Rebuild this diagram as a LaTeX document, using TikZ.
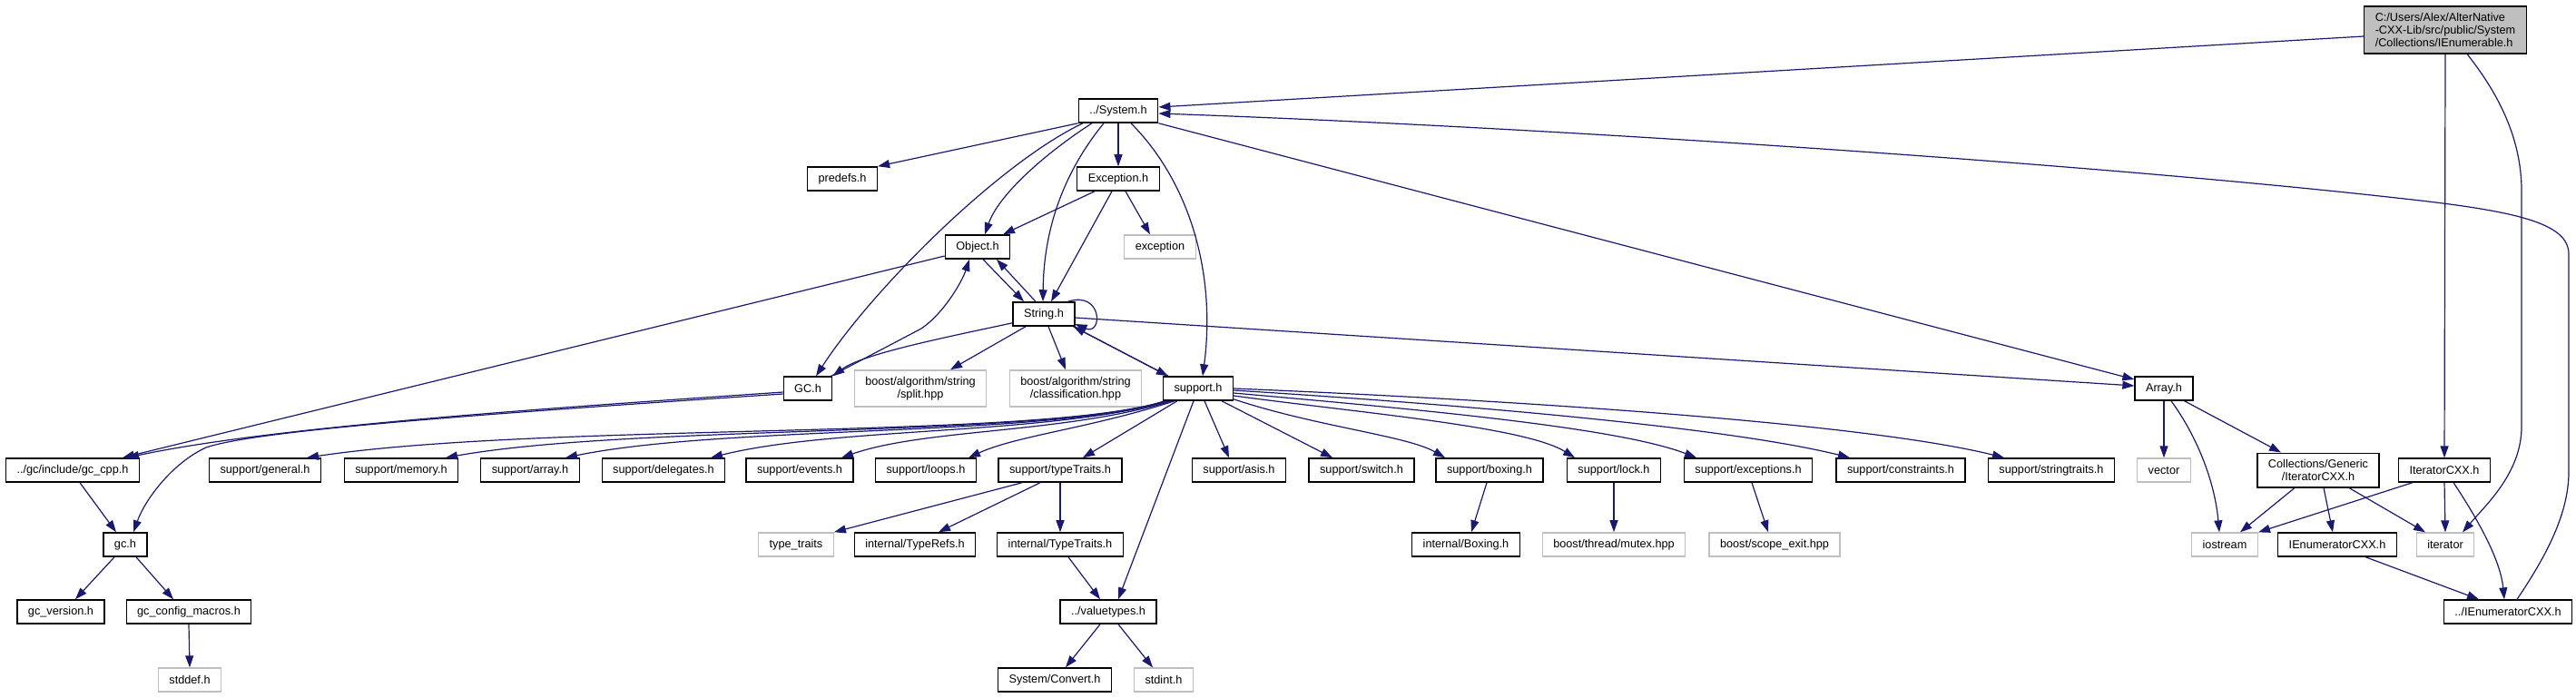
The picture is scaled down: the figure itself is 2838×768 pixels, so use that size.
\documentclass[tikz,border=0pt]{standalone}
\usepackage{fontspec}
\setmainfont{Liberation Sans}
\usetikzlibrary{arrows.meta,calc}
\definecolor{edgec}{HTML}{191970}
\definecolor{graybox}{HTML}{BFBFBF}
\begin{document}
\begin{tikzpicture}[x=0.5pt,y=-0.5pt,
  box/.style={draw=black, line width=0.65pt, fill=white, rectangle, inner xsep=6pt, inner ysep=3.6pt, minimum height=13pt, font=\fontsize{6.35pt}{7pt}\selectfont, align=center},
  sysbox/.style={box, draw=graybox},
  mainbox/.style={box, fill=graybox, align=left},
  e/.style={draw=edgec, line width=0.6pt, -{Triangle[length=6.5pt,width=4.5pt]}}
]
\fill[white] (0,0) rectangle (2838,768);
\useasboundingbox (0,0) rectangle (2838,768);

% nodes
\node[mainbox] (main) at (2694,33) {C:/Users/Alex/AlterNative\\-CXX-Lib/src/public/System\\/Collections/IEnumerable.h};
\node[box] (sys) at (1232,122) {../System.h};
\node[box] (predefs) at (928,197) {predefs.h};
\node[box] (exc) at (1232,197) {Exception.h};
\node[box] (obj) at (1077,272) {Object.h};
\node[sysbox] (excp) at (1278,272) {exception};
\node[box] (str) at (1150,346) {String.h};
\node[box] (gch) at (890,428) {GC.h};
\node[sysbox] (split) at (1014,428) {boost/algorithm/string\\/split.hpp};
\node[sysbox] (classif) at (1185,428) {boost/algorithm/string\\/classification.hpp};
\node[box] (supp) at (1320,428) {support.h};
\node[box] (arr) at (2384,428) {Array.h};

\node[box] (gccpp) at (80,518) {../gc/include/gc\_cpp.h};
\node[box] (sgen) at (292,518) {support/general.h};
\node[box] (smem) at (442,518) {support/memory.h};
\node[box] (sarr) at (584,518) {support/array.h};
\node[box] (sdel) at (731,518) {support/delegates.h};
\node[box] (sev) at (881,518) {support/events.h};
\node[box] (sloop) at (1020,518) {support/loops.h};
\node[box] (stt) at (1168,518) {support/typeTraits.h};
\node[box] (sasis) at (1365,518) {support/asis.h};
\node[box] (ssw) at (1500,518) {support/switch.h};
\node[box] (sbox) at (1641,518) {support/boxing.h};
\node[box] (slock) at (1778,518) {support/lock.h};
\node[box] (sexc) at (1926,518) {support/exceptions.h};
\node[box] (scons) at (2094,518) {support/constraints.h};
\node[box] (sstr) at (2260,518) {support/stringtraits.h};
\node[sysbox] (vec) at (2384,518) {vector};
\node[box] (cgit) at (2554,518) {Collections/Generic\\/IteratorCXX.h};
\node[box] (itcxx) at (2693,518) {IteratorCXX.h};

\node[box] (gch2) at (138,600) {gc.h};
\node[sysbox] (tt) at (877,600) {type\_traits};
\node[box] (trefs) at (1008,600) {internal/TypeRefs.h};
\node[box] (itt) at (1168,600) {internal/TypeTraits.h};
\node[box] (ibox) at (1615,600) {internal/Boxing.h};
\node[sysbox] (mutex) at (1778,600) {boost/thread/mutex.hpp};
\node[sysbox] (scope) at (1955,600) {boost/scope\_exit.hpp};
\node[sysbox] (ios) at (2451,600) {iostream};
\node[box] (ienum) at (2575,600) {IEnumeratorCXX.h};
\node[sysbox] (iter) at (2694,600) {iterator};

\node[box] (gcver) at (67,674) {gc\_version.h};
\node[box] (gccfg) at (208,674) {gc\_config\_macros.h};
\node[box] (vt) at (1221,674) {../valuetypes.h};
\node[box] (ienum2) at (2763,674) {../IEnumeratorCXX.h};

\node[sysbox] (stddef) at (209,749) {stddef.h};
\node[box] (conv) at (1162,749) {System/Convert.h};
\node[sysbox] (stdint) at (1282,749) {stdint.h};

% edges from main
\draw[e] ($(main.west)+(0,7)$) -- ($(sys.east)+(0,-4)$);
\draw[e] (main.south) -- (itcxx.north);
\draw[e] ($(main.south)+(24,0)$) .. controls (2750,100) and (2778,150) .. (2778,210) -- (2778,470) .. controls (2778,520) and (2740,555) .. ($(iter.north)+(19,0)$);
\draw[e] ($(ienum2.north)+(10,0)$) .. controls (2800,620) and (2830,570) .. (2830,520) -- (2830,280) .. controls (2830,245) and (2770,232) .. (2640,218) .. controls (2300,180) and (1700,140) .. ($(sys.east)+(0,3)$);

% System.h
\draw[e] (sys.south west) -- (predefs.north east);
\draw[e] (sys.south) -- (exc.north);
\draw[e] ($(sys.south)+(-29,0)$) .. controls (1150,170) and (1100,215) .. ($(obj.north)+(8,0)$);
\draw[e] ($(sys.south)+(-39,0)$) .. controls (1100,180) and (960,320) .. ($(gch.north)+(9,0)$);
\draw[e] ($(sys.south)+(-16,0)$) .. controls (1180,180) and (1150,240) .. ($(str.north)+(-1,0)$);
\draw[e] ($(sys.south)+(14,0)$) .. controls (1310,200) and (1340,300) .. ($(supp.north)+(5,0)$);
\draw[e] (sys.south east) -- ($(arr.west)+(0,-10)$);

% Exception.h
\draw[e] ($(exc.south)+(-26,0)$) -- ($(obj.north)+(28,0)$);
\draw[e] ($(exc.south)+(-7,0)$) -- ($(str.north)+(8,0)$);
\draw[e] ($(exc.south)+(8,0)$) -- ($(excp.north)+(-11,0)$);

% Object.h
\draw[e] ($(obj.south)+(6,0)$) -- ($(str.north)+(-22,0)$);
\draw[e] ($(obj.west)+(0,10)$) -- ($(gccpp.north)+(55,0)$);

% String.h
\draw[e] ($(str.north)+(-9,0)$) -- ($(obj.south)+(21,0)$);
\draw[e] ($(str.north east)+(-8,0)$) .. controls (1215,320) and (1215,370) .. ($(str.east)+(0,11)$);
\draw[e] ($(str.south west)+(0,-4)$) .. controls (1040,372) and (950,390) .. (gch.north east);
\draw[e] ($(str.south)+(-20,0)$) -- ($(split.north)+(33,0)$);
\draw[e] ($(str.south)+(5,0)$) -- ($(classif.north)+(-11,0)$);
\draw[e] ($(str.south east)+(-2,0)$) -- ($(supp.north west)+(6,0)$);
\draw[e] ($(supp.north west)+(6,0)$) -- ($(str.south east)+(-2,0)$);
\draw[e] ($(str.east)+(0,4)$) -- ($(arr.west)+(0,-3)$);

% GC.h
\draw[e] ($(gch.north east)+(-2,0)$) -- (1015,362) .. controls (1040,345) and (1060,310) .. ($(obj.south)+(-9,0)$);
\draw[e] ($(gch.west)+(0,4)$) .. controls (600,450) and (300,470) .. ($(gccpp.north)+(60,0)$);
\draw[e] ($(gch.west)+(0,6)$) .. controls (500,458) and (280,475) .. (227,493) .. controls (190,510) and (160,550) .. ($(gch2.north)+(9,0)$);

% gc
\draw[e] ($(gccpp.south)+(8,0)$) -- ($(gch2.north)+(-10,0)$);
\draw[e] ($(gch2.south)+(-12,0)$) -- ($(gcver.north)+(16,0)$);
\draw[e] ($(gch2.south)+(12,0)$) -- ($(gccfg.north)+(-17,0)$);
\draw[e] (gccfg.south) -- (stddef.north);

% support.h fan
\draw[e] ($(supp.south west)+(2,0)$) .. controls (1150,485) and (600,465) .. ($(sgen.north)+(46,0)$);
\draw[e] ($(supp.south west)+(4,0)$) .. controls (1150,483) and (700,467) .. ($(smem.north)+(49,0)$);
\draw[e] ($(supp.south west)+(6,0)$) .. controls (1150,482) and (800,468) .. ($(sarr.north)+(39,0)$);
\draw[e] ($(supp.south west)+(8,0)$) .. controls (1150,480) and (920,470) .. ($(sdel.north)+(52,0)$);
\draw[e] ($(supp.south west)+(10,0)$) .. controls (1170,478) and (1020,472) .. ($(sev.north)+(46,0)$);
\draw[e] ($(supp.south west)+(13,0)$) .. controls (1200,472) and (1120,480) .. ($(sloop.north)+(47,0)$);
\draw[e] ($(supp.south west)+(16,0)$) -- ($(stt.north)+(25,0)$);
\draw[e] ($(supp.south)+(-5,0)$) -- ($(vt.north)+(11,0)$);
\draw[e] ($(supp.south)+(7,0)$) -- ($(sasis.north)+(-11,0)$);
\draw[e] ($(supp.south)+(26,0)$) -- ($(ssw.north)+(-32,0)$);
\draw[e] ($(supp.south east)+(0,-2)$) .. controls (1450,470) and (1550,480) .. ($(sbox.north)+(-49,0)$);
\draw[e] ($(supp.east)+(0,8)$) .. controls (1500,455) and (1680,470) .. ($(slock.north)+(-43,0)$);
\draw[e] ($(supp.east)+(0,5)$) .. controls (1550,450) and (1780,470) .. ($(sexc.north)+(-57,0)$);
\draw[e] ($(supp.east)+(0,2)$) .. controls (1600,445) and (1900,470) .. ($(scons.north)+(-56,0)$);
\draw[e] (supp.east) .. controls (1650,440) and (2050,465) .. ($(sstr.north)+(-52,0)$);

% typeTraits etc
\draw[e] ($(stt.south)+(-42,0)$) -- (tt.north east);
\draw[e] ($(stt.south)+(-22,0)$) -- ($(trefs.north)+(26,0)$);
\draw[e] (stt.south) -- (itt.north);
\draw[e] ($(itt.south)+(9,0)$) -- ($(vt.north)+(-9,0)$);
\draw[e] ($(vt.south)+(-9,0)$) -- ($(conv.north)+(12,0)$);
\draw[e] ($(vt.south)+(11,0)$) -- ($(stdint.north)+(-12,0)$);
\draw[e] ($(sbox.south)+(-3,0)$) -- ($(ibox.north)+(6,0)$);
\draw[e] (slock.south) -- (mutex.north);
\draw[e] ($(sexc.south)+(4,0)$) -- ($(scope.north)+(-7,0)$);

% Array.h
\draw[e] (arr.south) -- (vec.north);
\draw[e] ($(arr.south)+(8,0)$) .. controls (2420,480) and (2440,530) .. ($(ios.north)+(-6,0)$);
\draw[e] ($(arr.south east)+(-10,0)$) -- ($(cgit.north)+(-41,0)$);

% Collections/Generic/IteratorCXX.h
\draw[e] ($(cgit.south)+(-26,0)$) -- ($(ios.north)+(17,0)$);
\draw[e] ($(cgit.south)+(6,0)$) -- ($(ienum.north)+(-5,0)$);
\draw[e] ($(cgit.south)+(34,0)$) -- ($(iter.north)+(-22,0)$);

% IteratorCXX.h
\draw[e] ($(itcxx.south)+(-35,0)$) -- (ios.north east);
\draw[e] (itcxx.south) -- (iter.north);
\draw[e] ($(itcxx.south)+(10,0)$) .. controls (2735,580) and (2755,620) .. ($(ienum2.north)+(-4,0)$);
\draw[e] ($(ienum.south)+(31,0)$) -- ($(ienum2.north)+(-32,0)$);
\end{tikzpicture}
\end{document}
